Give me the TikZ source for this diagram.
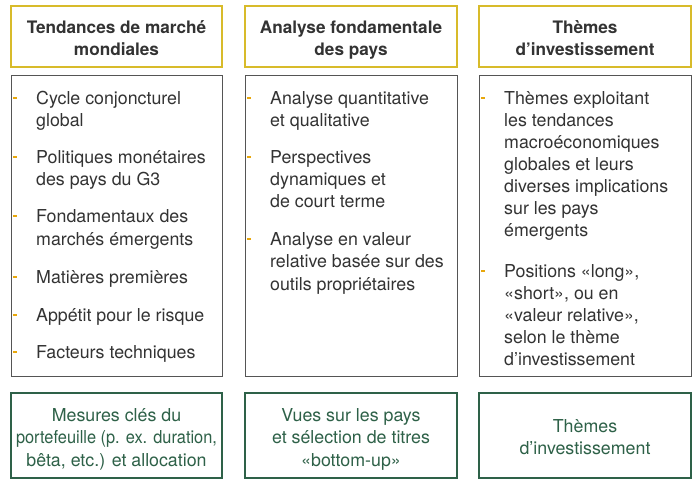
\documentclass[tikz,border=0pt]{standalone}
\usepackage{fontspec}
\setmainfont{TeX Gyre Heros}
\definecolor{gold}{HTML}{D8BB2A}
\definecolor{boxgray}{HTML}{555555}
\definecolor{dkgreen}{HTML}{2E6148}
\definecolor{txtgray}{HTML}{333333}
\definecolor{bulorange}{HTML}{E8A70C}
\tikzset{
  hdrbox/.style={draw=gold, line width=1.4pt, inner sep=0pt},
  midbox/.style={draw=boxgray, line width=1pt, inner sep=0pt},
  botbox/.style={draw=dkgreen, line width=1.3pt, inner sep=0pt},
  hdrtxt/.style={inner sep=0pt, anchor=base, text=txtgray, font=\fontsize{17.2}{22}\selectfont\bfseries},
  itxt/.style={inner sep=0pt, anchor=base west, text=txtgray, font=\fontsize{17.8}{22}\selectfont},
  bottxt/.style={inner sep=0pt, anchor=base, text=dkgreen, font=\fontsize{17.8}{22}\selectfont},
  bul/.style={inner sep=0pt, fill=bulorange, minimum width=4pt, minimum height=1.3pt, anchor=west},
}
\begin{document}
\begin{tikzpicture}[x=1pt,y=-1pt]
\useasboundingbox[fill=white] (0,0) rectangle (693,482);
% boxes
\node[hdrbox, minimum width=211pt, minimum height=61pt] (h1) at (116.5,36.5) {};
\node[hdrbox, minimum width=212pt, minimum height=61pt] (h2) at (351,36.5) {};
\node[hdrbox, minimum width=212pt, minimum height=61pt] (h3) at (585,36.5) {};
\node[midbox, minimum width=211pt, minimum height=301pt] (m1) at (116.5,225.5) {};
\node[midbox, minimum width=212pt, minimum height=301pt] (m2) at (351,225.5) {};
\node[midbox, minimum width=212pt, minimum height=301pt] (m3) at (585,225.5) {};
\node[botbox, minimum width=211pt, minimum height=85pt] (b1) at (116.5,435.5) {};
\node[botbox, minimum width=212pt, minimum height=85pt] (b2) at (351,435.5) {};
\node[botbox, minimum width=212pt, minimum height=85pt] (b3) at (585,435.5) {};
% headers
\node[hdrtxt] (h1a) at (116.5,33) {Tendances de marché};
\node[hdrtxt] (h1b) at (116.5,55) {mondiales};
\node[hdrtxt] (h2a) at (351,33) {Analyse fondamentale};
\node[hdrtxt] (h2b) at (351,55) {des pays};
\node[hdrtxt] (h3a) at (585,33) {Thèmes};
\node[hdrtxt] (h3b) at (585,55) {d’investissement};
% column 1 items
\node[bul] (d11) at (13,98) {};
\node[itxt] (t11a) at (36,104) {Cycle conjoncturel};
\node[itxt] (t11b) at (36,126) {global};
\node[bul] (d12) at (13,157) {};
\node[itxt] (t12a) at (36,163) {Politiques monétaires};
\node[itxt] (t12b) at (36,185) {des pays du G3};
\node[bul] (d13) at (13,216) {};
\node[itxt] (t13a) at (36,222) {Fondamentaux des};
\node[itxt] (t13b) at (36,245) {marchés émergents};
\node[bul] (d14) at (13,277) {};
\node[itxt] (t14a) at (36,283) {Matières premières};
\node[bul] (d15) at (13,315) {};
\node[itxt] (t15a) at (36,321) {Appétit pour le risque};
\node[bul] (d16) at (13,352) {};
\node[itxt] (t16a) at (36,358) {Facteurs techniques};
% column 2 items
\node[bul] (d21) at (247,98) {};
\node[itxt] (t21a) at (270,104) {Analyse quantitative};
\node[itxt] (t21b) at (270,126) {et qualitative};
\node[bul] (d22) at (247,157) {};
\node[itxt] (t22a) at (270,163) {Perspectives};
\node[itxt] (t22b) at (270,185) {dynamiques et};
\node[itxt] (t22c) at (270,207) {de court terme};
\node[bul] (d23) at (247,239) {};
\node[itxt] (t23a) at (270,245) {Analyse en valeur};
\node[itxt] (t23b) at (270,267) {relative basée sur des};
\node[itxt] (t23c) at (270,290) {outils propriétaires};
% column 3 items
\node[bul] (d31) at (481,98) {};
\node[itxt] (t31a) at (504,104) {Thèmes exploitant};
\node[itxt] (t31b) at (504,126) {les tendances};
\node[itxt] (t31c) at (504,148) {macroéconomiques};
\node[itxt] (t31d) at (504,170) {globales et leurs};
\node[itxt] (t31e) at (504,192) {diverses implications};
\node[itxt] (t31f) at (504,214) {sur les pays};
\node[itxt] (t31g) at (504,236) {émergents};
\node[bul] (d32) at (481,271) {};
\node[itxt] (t32a) at (504,277) {Positions «long»,};
\node[itxt] (t32b) at (504,299) {«short», ou en};
\node[itxt] (t32c) at (504,321) {«valeur relative»,};
\node[itxt] (t32d) at (504,343) {selon le thème};
\node[itxt] (t32e) at (504,365) {d’investissement};
% bottom texts
\node[bottxt] (bt1a) at (116.5,421) {Mesures clés du};
\node[bottxt] (bt1b) at (116.5,443) {\scalebox{0.92}[1]{portefeuille (p. ex. duration,}};
\node[bottxt] (bt1c) at (116.5,466) {bêta, etc.) et allocation};
\node[bottxt] (bt2a) at (351,421) {Vues sur les pays};
\node[bottxt] (bt2b) at (351,443) {et sélection de titres};
\node[bottxt] (bt2c) at (351,466) {«bottom-up»};
\node[bottxt] (bt3a) at (585,432) {Thèmes};
\node[bottxt] (bt3b) at (585,454) {d’investissement};
\end{tikzpicture}
\end{document}
